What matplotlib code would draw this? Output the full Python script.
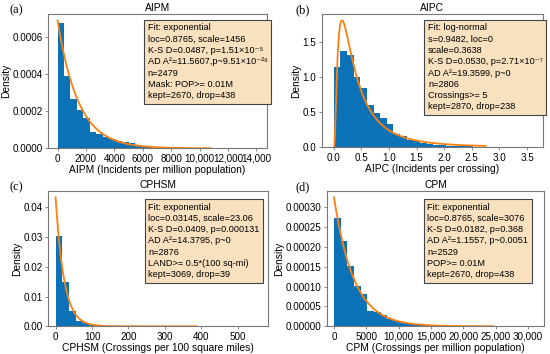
import numpy as np
import matplotlib
matplotlib.use("Agg")
import matplotlib.pyplot as plt
from matplotlib.ticker import FuncFormatter, FormatStrFormatter, MultipleLocator

plt.rcParams["font.family"] = ["Liberation Sans", "DejaVu Sans"]

# ---- values (30 equal-width bins from 0, density) ----
aipm_bin_width = 456
aipm_density = [0.000673, 0.000389, 0.000267, 0.000208, 0.000161, 0.000090,
                0.000078, 0.000062, 0.000050, 0.000040, 0.000032, 0.000028,
                0.000016, 0.000010, 0.0000075, 0.0000055, 0.000004, 0.000003,
                0.000002, 0.0000015, 0.000001, 0.0000008, 0.0000006, 0.0000004,
                0.0000003, 0.0000002, 0.0000002, 0.0000001, 0.0, 0.0000001]
aipm_loc, aipm_scale, aipm_curve_end = 0.8765, 1456, 10800

aipc_bin_width = 0.12
aipc_density = [1.14, 1.37, 1.31, 1.00, 0.85, 0.60, 0.49, 0.41, 0.33, 0.18,
                0.16, 0.10, 0.08, 0.06, 0.04, 0.035, 0.025, 0.02, 0.015, 0.012,
                0.009, 0.007, 0.005, 0.004, 0.003, 0.002, 0.0015, 0.001, 0.001,
                0.0005]
aipc_s, aipc_loc, aipc_scale, aipc_curve_end = 0.9482, 0.0, 0.3638, 2.75

cphsm_bin_width = 18.5
cphsm_density = [0.0303, 0.0150, 0.0052, 0.0018, 0.0010, 0.0004, 0.00025,
                 0.00015, 0.0001, 0.00007, 0.00005, 0.00003, 0.00002, 0.00001,
                 0.00001, 0.000005, 0.000005, 0.0, 0.000005, 0.0, 0.0, 0.0,
                 0.0, 0.0, 0.0, 0.0, 0.0, 0.0, 0.0, 0.000005]
cphsm_loc, cphsm_scale, cphsm_curve_end = 0.03145, 23.06, 387

cpm_bin_width = 1032
cpm_density = [0.000274, 0.000214, 0.000151, 0.000101, 0.000082, 0.000039,
               0.000035, 0.000028, 0.000018, 0.000013, 0.0000095, 0.000007,
               0.000005, 0.0000035, 0.0000025, 0.000002, 0.0000015, 0.000001,
               0.0000008, 0.0000006, 0.0000005, 0.0000004, 0.0000003,
               0.0000002, 0.0000002, 0.0000001, 0.0000001, 0.0, 0.0, 0.0000001]
cpm_loc, cpm_scale, cpm_curve_end = 0.8765, 3076, 24660

aipm_note = ("Fit: exponential\n"
             "loc=0.8765, scale=1456\n"
             "K-S D=0.0487, p=1.51×10⁻⁵\n"
             "AD A²=11.5607,p~9.51×10⁻²⁶\n"
             "n=2479\n"
             "Mask: POP>= 0.01M\n"
             "kept=2670, drop=438")
aipc_note = ("Fit: log-normal\n"
             "s=0.9482, loc=0\n"
             "scale=0.3638\n"
             "K-S D=0.0530, p=2.71×10⁻⁷\n"
             "AD A²=19.3599, p~0\n"
             "n=2806\n"
             "Crossings>= 5\n"
             "kept=2870, drop=238")
cphsm_note = ("Fit: exponential\n"
              "loc=0.03145, scale=23.06\n"
              "K-S D=0.0409, p=0.000131\n"
              "AD A²=14.3795, p~0\n"
              "n=2876\n"
              "LAND>= 0.5*(100 sq-mi)\n"
              "kept=3069, drop=39")
cpm_note = ("Fit: exponential\n"
            "loc=0.8765, scale=3076\n"
            "K-S D=0.0182, p=0.368\n"
            "AD A²=1.1557, p~0.0051\n"
            "n=2529\n"
            "POP>= 0.01M\n"
            "kept=2670, drop=438")

BAR = "#0b72b8"
FIT = "#ff7f0e"
EDGE = "#777777"
W, H = 550, 354
FS = 7.4      # titles / axis labels
TS = 7.1      # tick labels


def expon_pdf(x, loc, scale):
    return np.exp(-(x - loc) / scale) / scale


def lognorm_pdf(x, s, loc, scale):
    z = np.log((x - loc) / scale) / s
    return np.exp(-0.5 * z ** 2) / ((x - loc) * s * np.sqrt(2 * np.pi))


def comma_big(x, pos):
    return f"{x:,.0f}" if abs(x) >= 10000 else f"{x:.0f}"


def px_axes(fig, left, top, right, bottom):
    return fig.add_axes([left / W, 1 - bottom / H, (right - left) / W, (bottom - top) / H])


def panel(ax, width, dens, xfit, yfit, title, xlabel, note, note_xy,
          xlim, xstep, ystep, yfmt, xfmt):
    edges = np.arange(len(dens) + 1) * width
    ax.bar(edges[:-1], dens, width=width, align="edge", color=BAR, linewidth=0)
    ax.plot(xfit, yfit, color=FIT, lw=1.3)
    ax.set_xlim(*xlim)
    ax.xaxis.set_major_locator(MultipleLocator(xstep))
    ax.yaxis.set_major_locator(MultipleLocator(ystep))
    ax.xaxis.set_major_formatter(xfmt)
    ax.yaxis.set_major_formatter(FormatStrFormatter(yfmt))
    ax.set_title(title, fontsize=FS, pad=2.5)
    ax.set_xlabel(xlabel, fontsize=FS, labelpad=1.0)
    ax.set_ylabel("Density", fontsize=FS, labelpad=1)
    ax.tick_params(labelsize=TS, length=2.5, width=0.6, pad=1.5, color=EDGE)
    for sp in ax.spines.values():
        sp.set_color(EDGE)
        sp.set_linewidth(0.8)
    ax.text(note_xy[0], note_xy[1], note, transform=ax.transAxes, ha="left", va="top",
            fontsize=6.6, linespacing=1.33,
            bbox=dict(boxstyle="square,pad=0.4", facecolor="#f9e0bf",
                      edgecolor="#444444", linewidth=0.8))


fig = plt.figure(figsize=(W / 100, H / 100), dpi=100)

ax_a = px_axes(fig, 48.3, 14, 267, 148.3)
xa = np.linspace(aipm_loc, aipm_curve_end, 400)
panel(ax_a, aipm_bin_width, aipm_density, xa, expon_pdf(xa, aipm_loc, aipm_scale),
      "AIPM", "AIPM (Incidents per million population)", aipm_note, (0.455, 0.93),
      (-650, 14750), 2000, 0.0002, "%.4f", FuncFormatter(comma_big))

ax_b = px_axes(fig, 321.7, 14, 543, 147)
xb = np.linspace(0.002, aipc_curve_end, 600)
panel(ax_b, aipc_bin_width, aipc_density, xb,
      lognorm_pdf(xb, aipc_s, aipc_loc, aipc_scale),
      "AIPC", "AIPC (Incidents per crossing)", aipc_note, (0.48, 0.93),
      (-0.22, 3.79), 0.5, 0.5, "%.1f", FormatStrFormatter("%.1f"))

ax_c = px_axes(fig, 48.3, 191, 268, 326.3)
xc = np.linspace(cphsm_loc, cphsm_curve_end, 400)
panel(ax_c, cphsm_bin_width, cphsm_density, xc,
      expon_pdf(xc, cphsm_loc, cphsm_scale),
      "CPHSM", "CPHSM (Crossings per 100 square miles)", cphsm_note, (0.455, 0.915),
      (-20, 583), 100, 0.01, "%.2f", FuncFormatter(comma_big))

ax_d = px_axes(fig, 326.7, 191, 544.3, 326.3)
xd = np.linspace(cpm_loc, cpm_curve_end, 400)
panel(ax_d, cpm_bin_width, cpm_density, xd, expon_pdf(xd, cpm_loc, cpm_scale),
      "CPM", "CPM (Crossings per million population)", cpm_note, (0.462, 0.915),
      (-1130, 32550), 5000, 0.00005, "%.5f", FuncFormatter(comma_big))

for lab, x, y in [("(a)", 10, 10), ("(b)", 295, 10), ("(c)", 10, 187), ("(d)", 295, 187)]:
    fig.text(x / W, 1 - y / H, lab, family=["Liberation Serif", "DejaVu Serif"],
             fontsize=9, ha="left", va="center")

fig.savefig("out.png", dpi=100)
